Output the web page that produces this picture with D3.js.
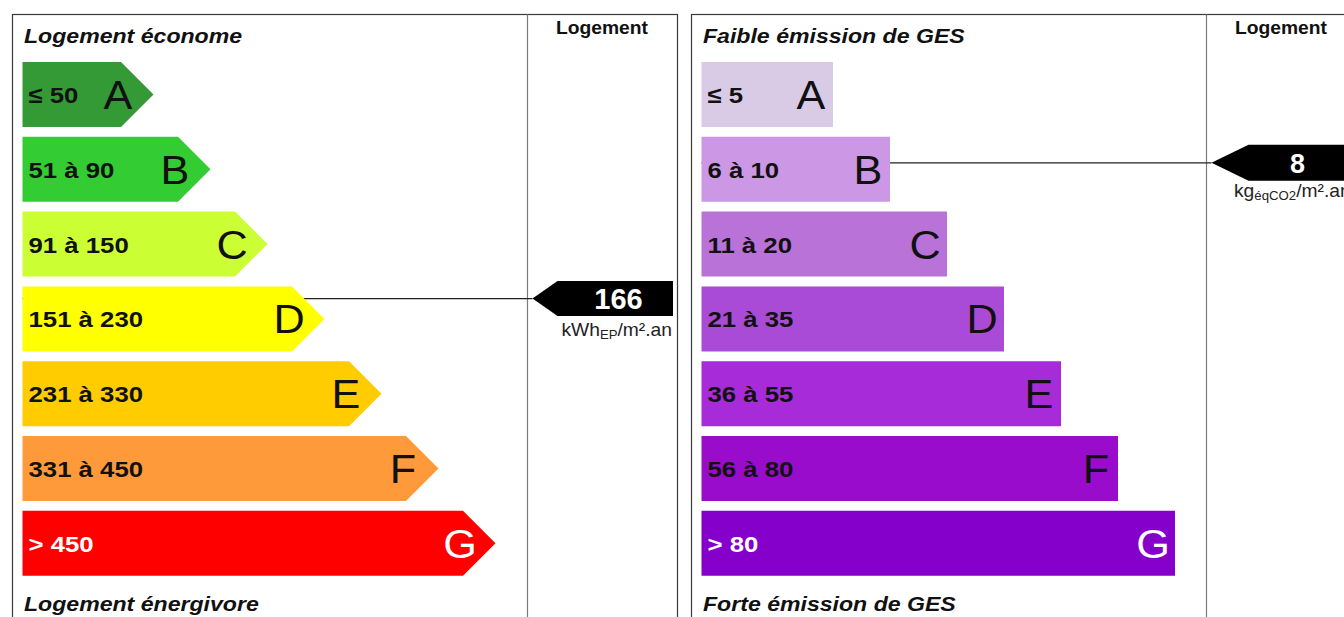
<!DOCTYPE html>
<html>
<head>
<meta charset="utf-8">
<script src="https://cdn.jsdelivr.net/npm/d3@7"></script>
<style>
  html, body { margin: 0; padding: 0; background: #fff; }
  svg { display: block; font-family: "Liberation Sans", Arial, sans-serif; }
</style>
</head>
<body>
<svg id="chart" width="1344" height="617"></svg>
<script>
// ---- Data ----
const classes = ["A", "B", "C", "D", "E", "F", "G"];

const energyRanges = ["≤ 50", "51 à 90", "91 à 150", "151 à 230", "231 à 330", "331 à 450", "> 450"];
const energyLower  = [0, 51, 91, 151, 231, 331, 451];
const energyUpper  = [50, 90, 150, 230, 330, 450, 450];
const energyColors = ["#349a36", "#33cc33", "#ccff33", "#ffff00", "#ffcc00", "#ff9a3a", "#ff0000"];
const energyValue  = 166;
const energyUnit   = ["kWh", "EP", "/m².an"];

const gesRanges = ["≤ 5", "6 à 10", "11 à 20", "21 à 35", "36 à 55", "56 à 80", "> 80"];
const gesLower  = [0, 6, 11, 21, 36, 56, 81];
const gesUpper  = [5, 10, 20, 35, 55, 80, 80];
const gesColors = ["#d9cbe6", "#cc97e4", "#b872d8", "#a94bd6", "#a72bd9", "#990ccb", "#8600cc"];
const gesValue  = 8;
const gesUnit   = ["kg", "éqCO2", "/m².an"];

const darkText = ["#111", "#111", "#111", "#111", "#111", "#111", "#fff"];

const panels = [
  { title: "Logement économe", bottom: "Logement énergivore", ranges: energyRanges, lower: energyLower, upper: energyUpper,
    colors: energyColors, value: energyValue, unit: energyUnit, x0: 12, arrow: true, ends: [121, 463],
    letterOffset: -3, markerDepth: 25, markerRight: 673, markerH: 35, numSize: 29 },
  { title: "Faible émission de GES", bottom: "Forte émission de GES", ranges: gesRanges, lower: gesLower, upper: gesUpper,
    colors: gesColors, value: gesValue, unit: gesUnit, x0: 691, arrow: false, ends: [833, 1175],
    letterOffset: -22, markerDepth: 37, markerRight: 1362, markerH: 36, numSize: 27 }
];

const svg = d3.select("#chart");

const y = d3.scaleBand().domain(classes).range([62, 575.8]).paddingInner(0.131).paddingOuter(0);
const bw = y.bandwidth();

function stretchedText(g, x, yy, txt, opts) {
  return g.append("text")
    .attr("transform", `translate(${x},${yy}) scale(${opts.sx || 1},1)`)
    .attr("text-anchor", opts.anchor || "start")
    .attr("font-size", opts.size)
    .attr("font-weight", opts.weight || "normal")
    .attr("font-style", opts.style || "normal")
    .attr("fill", opts.fill || "#111")
    .text(txt);
}

panels.forEach(p => {
  const g = svg.append("g");
  const left = p.x0, right = p.x0 + 665, divider = p.x0 + 515;
  const barX = left + 10.5;
  const xEnd = d3.scaleLinear().domain([0, 6]).range(p.ends);

  // frame
  g.append("rect").attr("x", left + 0.5).attr("y", 14.5).attr("width", 665).attr("height", 640)
    .attr("fill", "none").attr("stroke", "#3a3a3a").attr("stroke-width", 1.2);
  g.append("line").attr("x1", divider + 0.5).attr("x2", divider + 0.5).attr("y1", 14.5).attr("y2", 617)
    .attr("stroke", "#7a7a7a").attr("stroke-width", 1.2);

  // header
  stretchedText(g, (divider + right) / 2, 34, "Logement", { size: 18, weight: "bold", anchor: "middle", sx: 1.07 });

  // titles
  stretchedText(g, left + 12, 43, p.title, { size: 21, weight: "bold", style: "italic", sx: 1.1 });
  stretchedText(g, left + 12, 611, p.bottom, { size: 21, weight: "bold", style: "italic", sx: 1.1 });

  // marker position from value
  const idx = p.lower.findIndex((lo, i) => p.value >= lo && p.value <= p.upper[i]);
  const frac = (p.value - p.lower[idx]) / (p.upper[idx] - p.lower[idx] + 1);
  const my = y(classes[idx]) + frac * bw;
  const tipX = divider + 5.5;

  // connector line (behind bars)
  g.append("line").attr("x1", barX).attr("x2", tipX).attr("y1", my).attr("y2", my)
    .attr("stroke", "#222").attr("stroke-width", 1.3);

  // bars
  classes.forEach((c, i) => {
    const top = y(c), bot = top + bw, xe = xEnd(i);
    let d;
    if (p.arrow) {
      d = `M${barX},${top} L${xe},${top} L${xe + bw / 2},${top + bw / 2} L${xe},${bot} L${barX},${bot} Z`;
    } else {
      d = `M${barX},${top} L${xe},${top} L${xe},${bot} L${barX},${bot} Z`;
    }
    g.append("path").attr("d", d).attr("fill", p.colors[i]);
    stretchedText(g, barX + 6, top + bw / 2 + 8.5, p.ranges[i], { size: 23, weight: "bold", sx: 1.12, fill: darkText[i] });
    stretchedText(g, xe + p.letterOffset, top + bw / 2 + 14.5, c, { size: 40, anchor: "middle", sx: 1.08, fill: darkText[i] });
  });

  // marker
  const h2 = p.markerH / 2;
  g.append("path")
    .attr("d", `M${tipX},${my} L${tipX + p.markerDepth},${my - h2} L${p.markerRight},${my - h2} L${p.markerRight},${my + h2} L${tipX + p.markerDepth},${my + h2} Z`)
    .attr("fill", "#000");
  const numCx = p.arrow ? 618.5 : 1297.5;
  g.append("text").attr("x", numCx).attr("y", my + 10).attr("text-anchor", "middle")
    .attr("font-size", p.numSize).attr("font-weight", "bold").attr("fill", "#fff").text(p.value);

  // unit
  const ut = g.append("text")
    .attr("font-size", 17.5).attr("fill", "#222");
  if (p.arrow) {
    ut.attr("transform", `translate(672,${my + 37}) scale(1.1,1)`).attr("text-anchor", "end");
  } else {
    ut.attr("transform", `translate(1234,${my + 34}) scale(1.1,1)`).attr("text-anchor", "start");
  }
  ut.append("tspan").text(p.unit[0]);
  ut.append("tspan").attr("font-size", 12).attr("dy", 3).text(p.unit[1]);
  ut.append("tspan").attr("dy", -3).text(p.unit[2]);
});
</script>
</body>
</html>
